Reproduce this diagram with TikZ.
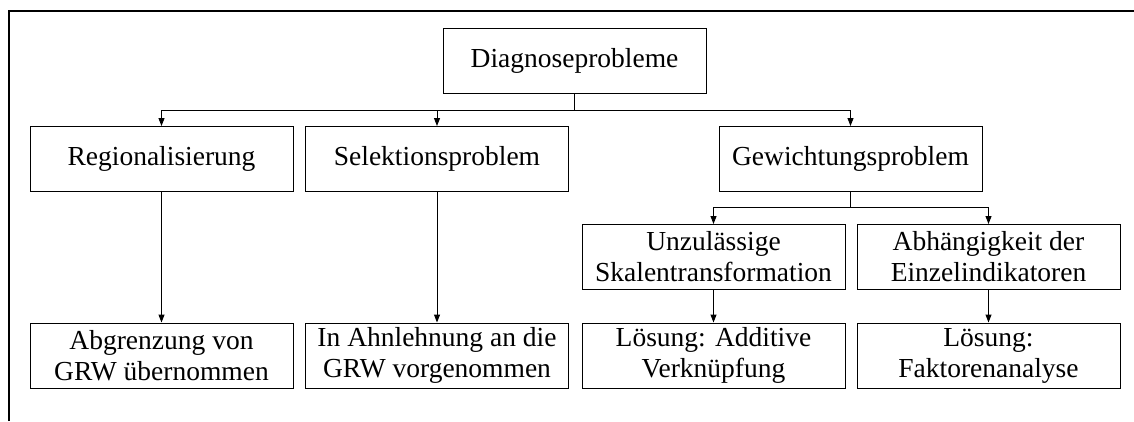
\documentclass[tikz,border=0pt]{standalone}
\usepackage{fontspec}
\setmainfont{Liberation Serif}
\usetikzlibrary{arrows.meta}
\begin{document}
\begin{tikzpicture}[x=1pt,y=-1pt,
  box/.style={draw=black,line width=1pt,minimum width=263pt,minimum height=65pt,inner sep=0pt,align=center,font=\fontsize{27.5}{31}\selectfont},
  conn/.style={draw=black,line width=1pt},
  arr/.style={conn,-{Triangle[width=6pt,length=8pt]}},
  frame/.style={draw=black,line width=2pt}]
\useasboundingbox (0,0) rectangle (1134,421);
% frame (top and left edge)
\coordinate (fl) at (9,421);
\coordinate (fc) at (9,11);
\coordinate (fr) at (1134,11);
\draw[frame] (fl) -- (fc) -- (fr);
% nodes
\node[box] (diag) at (574.5,60.5) {Diagnoseprobleme};
\node[box] (reg) at (161.5,159) {Regionalisierung};
\node[box] (sel) at (437,159) {Selektionsproblem};
\node[box] (gew) at (850.5,159) {Gewichtungsproblem};
\node[box] (unz) at (713.5,257) {Unzulässige\\Skalentransformation};
\node[box] (abh) at (988.5,257) {Abhängigkeit der\\Einzelindikatoren};
\node[box] (abg) at (161.5,355.5) {Abgrenzung von\\GRW übernommen};
\node[box] (ahn) at (437,355.5) {In Ahnlehnung an die\\GRW vorgenommen};
\node[box] (loa) at (713.5,355.5) {Lösung: Additive\\Verknüpfung};
\node[box] (lob) at (988.5,355.5) {Lösung:\\Faktorenanalyse};
% buses
\coordinate (bus1) at (574.5,110);
\coordinate (bus2) at (850.5,207);
\draw[arr] (diag.south) -- (bus1) -| (reg.north);
\draw[arr] (bus1) -| (sel.north);
\draw[arr] (bus1) -| (gew.north);
\draw[arr] (gew.south) -- (bus2) -| (unz.north);
\draw[arr] (bus2) -| (abh.north);
\draw[arr] (reg.south) -- (abg.north);
\draw[arr] (sel.south) -- (ahn.north);
\draw[arr] (unz.south) -- (loa.north);
\draw[arr] (abh.south) -- (lob.north);
\end{tikzpicture}
\end{document}
